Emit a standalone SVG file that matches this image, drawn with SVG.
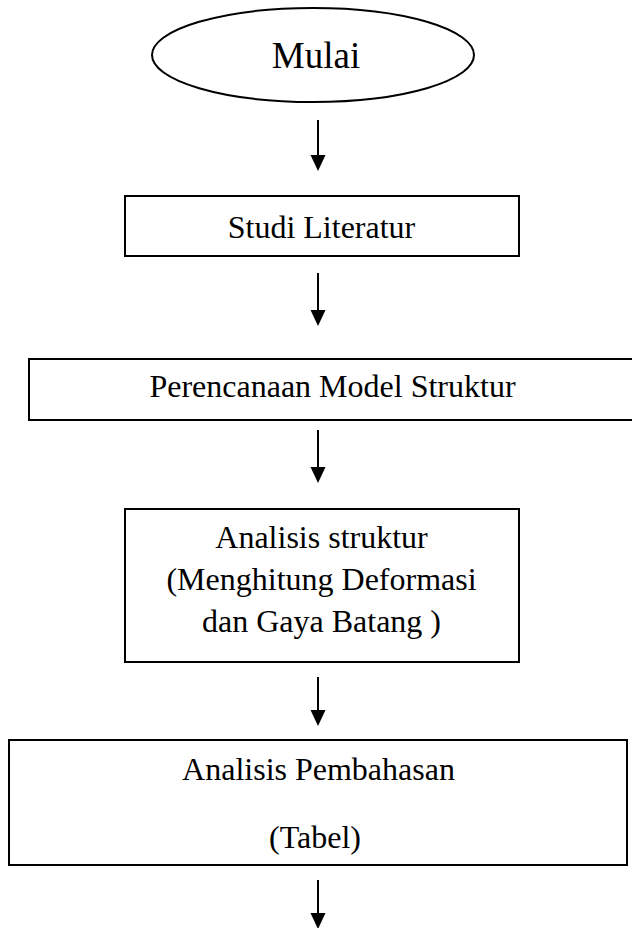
<svg xmlns="http://www.w3.org/2000/svg" width="632" height="928" viewBox="0 0 632 928">
<style>
.box{fill:#fff;stroke:#000;stroke-width:2}
.t{font-family:"Liberation Serif","Times New Roman",serif;font-size:32px;fill:#000;text-anchor:middle}
.ln{stroke:#000;stroke-width:2;fill:none}
.hd{fill:#000}
</style>
<rect width="632" height="928" fill="#fff"/>
<g id="n_mulai">
<ellipse class="box" cx="313" cy="55" rx="161" ry="47"/>
<text class="t" x="316" y="68" style="font-size:37px">Mulai</text>
</g>
<g id="n_studi">
<rect class="box" x="125" y="196" width="394" height="60"/>
<text class="t" x="321.5" y="238">Studi Literatur</text>
</g>
<g id="n_perencanaan">
<rect class="box" x="29" y="359" width="608" height="61"/>
<text class="t" x="332.5" y="397">Perencanaan Model Struktur</text>
</g>
<g id="n_analisis">
<rect class="box" x="125" y="509" width="394" height="153"/>
<text class="t" x="321.5" y="548">Analisis struktur</text>
<text class="t" x="321.5" y="590">(Menghitung Deformasi</text>
<text class="t" x="321.5" y="632">dan Gaya Batang )</text>
</g>
<g id="n_pembahasan">
<rect class="box" x="9" y="740" width="618" height="125"/>
<text class="t" x="318.5" y="780">Analisis Pembahasan</text>
<text class="t" x="315" y="848">(Tabel)</text>
</g>
<g id="connectors">
<line class="ln" x1="318" y1="120" x2="318" y2="157"/>
<polygon class="hd" points="310.5,155 325.5,155 318,171"/>
<line class="ln" x1="318" y1="273" x2="318" y2="312"/>
<polygon class="hd" points="310.5,310 325.5,310 318,326"/>
<line class="ln" x1="318" y1="430" x2="318" y2="469"/>
<polygon class="hd" points="310.5,467 325.5,467 318,483"/>
<line class="ln" x1="318" y1="677" x2="318" y2="712"/>
<polygon class="hd" points="310.5,710 325.5,710 318,726"/>
<line class="ln" x1="318" y1="880" x2="318" y2="915"/>
<polygon class="hd" points="310.5,913 325.5,913 318,929"/>
</g>
</svg>
